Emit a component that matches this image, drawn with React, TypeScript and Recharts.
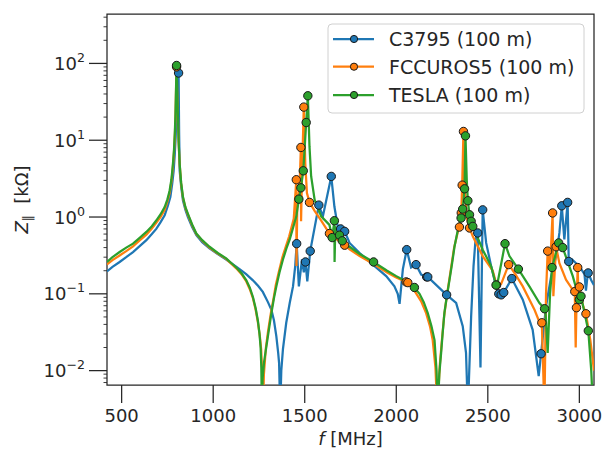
import React from "react";
import { ComposedChart, Line, Scatter, XAxis, YAxis, ReferenceArea } from "recharts";

type Pt = [number, number];

// [frequency MHz, |Z| kOhm]
const c3795Curve: Pt[] = [
  [420, 0.196], [450, 0.225], [489, 0.26], [525, 0.3], [562, 0.35], [600, 0.42], [635, 0.5],
  [665, 0.6], [689, 0.7], [712, 0.85], [735, 1.05], [752, 1.4], [766, 1.82], [776, 2.7],
  [784, 4.0], [790, 6.5], [795, 11], [799, 20], [802, 36], [811, 75], [814, 12], [817, 4.0],
  [825, 2.5], [835, 1.64], [848, 1.25], [862, 1.0], [885, 0.74], [908, 0.58], [940, 0.47],
  [980, 0.39], [1025, 0.33], [1071, 0.28], [1110, 0.24], [1144, 0.21], [1180, 0.18],
  [1217, 0.15], [1245, 0.127], [1271, 0.106], [1299, 0.078], [1318, 0.062], [1332, 0.045],
  [1345, 0.028], [1355, 0.017], [1360, 0.0125], [1366, 0.003], [1372, 0.01], [1381, 0.019],
  [1399, 0.042], [1418, 0.076], [1436, 0.125], [1448, 0.23], [1456, 0.45], [1468, 0.125],
  [1485, 0.28], [1495, 0.19], [1504, 0.26], [1514, 0.145], [1530, 0.36], [1577, 1.43],
  [1599, 1.02], [1645, 3.38], [1662, 1.37], [1680, 0.76], [1696, 0.7], [1718, 0.65],
  [1745, 0.46], [1800, 0.34], [1872, 0.24], [1945, 0.17], [1990, 0.125], [2008, 0.1],
  [2018, 0.074], [2036, 0.21], [2057, 0.376], [2081, 0.22], [2108, 0.24], [2136, 0.178],
  [2166, 0.166], [2172, 0.166], [2275, 0.097], [2327, 0.076], [2363, 0.038], [2381, 0.017],
  [2391, 0.003], [2409, 0.051], [2422, 0.23], [2433, 0.51], [2445, 0.62], [2460, 0.011],
  [2472, 1.24], [2491, 0.46], [2518, 0.23], [2545, 0.125], [2560, 0.1], [2573, 0.097],
  [2587, 0.104], [2631, 0.158], [2691, 0.084], [2745, 0.034], [2778, 0.0085], [2791, 0.0166],
  [2818, 0.069], [2846, 0.17], [2873, 0.31], [2891, 0.62], [2904, 1.4], [2918, 0.51],
  [2936, 1.55], [2942, 0.264], [2960, 0.28], [2982, 0.25], [3010, 0.21], [3028, 0.18],
  [3036, 0.11], [3042, 0.15], [3048, 0.187], [3065, 0.15], [3080, 0.13],
];
const c3795Markers: Pt[] = [
  [811, 75], [1456, 0.45], [1504, 0.26], [1530, 0.36], [1577, 1.43], [1645, 3.38], [1696, 0.7],
  [1718, 0.65], [2057, 0.376], [2108, 0.24], [2166, 0.166], [2172, 0.166], [2275, 0.097],
  [2445, 0.62], [2472, 1.24], [2560, 0.1], [2573, 0.097], [2587, 0.104], [2631, 0.158],
  [2791, 0.0166], [2904, 1.4], [2936, 1.55], [2942, 0.264], [3048, 0.187],
];

const fccCurve: Pt[] = [
  [420, 0.241], [450, 0.275], [489, 0.316], [525, 0.36], [562, 0.415], [600, 0.5], [635, 0.59],
  [665, 0.71], [689, 0.84], [712, 1.0], [735, 1.24], [750, 1.6], [762, 2.05], [772, 2.9],
  [780, 4.47], [786, 7], [791, 12.1], [794, 20], [796, 33], [798, 55], [800, 90], [803, 45],
  [807, 22], [811, 9.5], [817, 4.8], [825, 2.7], [835, 1.78], [848, 1.32], [862, 1.07],
  [885, 0.78], [908, 0.6], [940, 0.49], [980, 0.4], [1025, 0.335], [1071, 0.285],
  [1100, 0.245], [1126, 0.215], [1155, 0.18], [1181, 0.145], [1200, 0.115], [1217, 0.088],
  [1232, 0.062], [1244, 0.043], [1255, 0.028], [1262, 0.019], [1267, 0.01], [1272, 0.003],
  [1277, 0.009], [1288, 0.02], [1300, 0.033], [1315, 0.056], [1330, 0.088], [1342, 0.13],
  [1360, 0.2], [1378, 0.3], [1398, 0.42], [1415, 0.56], [1440, 0.95], [1454, 3.06],
  [1455, 0.23], [1459, 1.3], [1472, 2.6], [1479, 8.05], [1480, 0.88], [1486, 4.5], [1495, 27],
  [1503, 5.0], [1512, 2.05], [1526, 1.55], [1554, 1.2], [1590, 0.9], [1635, 0.61], [1680, 0.5],
  [1718, 0.43], [1745, 0.38], [1800, 0.31], [1876, 0.245], [1950, 0.19], [2000, 0.163],
  [2054, 0.143], [2063, 0.14], [2099, 0.11], [2136, 0.08], [2163, 0.056], [2185, 0.037],
  [2199, 0.025], [2214, 0.011], [2224, 0.003], [2238, 0.012], [2250, 0.026], [2261, 0.05],
  [2275, 0.09], [2289, 0.15], [2302, 0.24], [2316, 0.4], [2340, 0.7], [2345, 0.74],
  [2355, 1.13], [2360, 2.6], [2367, 13], [2372, 3], [2385, 1.0], [2400, 0.72], [2418, 0.56],
  [2472, 0.31], [2527, 0.2], [2548, 0.13], [2573, 0.135], [2614, 0.24], [2650, 0.18],
  [2691, 0.125], [2755, 0.062], [2791, 0.038], [2795, 0.042], [2809, 0.003], [2818, 0.1],
  [2827, 0.36], [2840, 0.22], [2854, 1.13], [2858, 0.093], [2873, 0.41], [2891, 0.25],
  [2927, 0.153], [2964, 0.113], [2975, 0.107], [2980, 0.02], [2984, 0.066], [2991, 0.22],
  [2995, 0.09], [3000, 0.123], [3020, 0.07], [3036, 0.055], [3060, 0.025], [3080, 0.01],
];
const fccMarkers: Pt[] = [
  [800, 90], [1454, 3.06], [1479, 8.05], [1495, 27], [1526, 1.55], [1635, 0.61], [1718, 0.43],
  [2054, 0.143], [2063, 0.14], [2345, 0.74], [2355, 1.13], [2360, 2.6], [2367, 13],
  [2400, 0.72], [2548, 0.13], [2614, 0.24], [2795, 0.042], [2827, 0.36], [2854, 1.13],
  [2873, 0.41], [2975, 0.107], [2984, 0.066], [2991, 0.22], [3000, 0.123], [3036, 0.055],
];

const teslaCurve: Pt[] = [
  [420, 0.26], [450, 0.3], [489, 0.35], [525, 0.4], [562, 0.45], [600, 0.54], [635, 0.64],
  [665, 0.76], [689, 0.9], [712, 1.08], [735, 1.35], [750, 1.7], [762, 2.2], [772, 3.1],
  [780, 4.9], [786, 7.5], [791, 13.4], [794, 22], [796, 36], [798, 60], [800, 94], [803, 50],
  [807, 22], [811, 10], [817, 4.9], [825, 2.8], [835, 1.82], [848, 1.35], [862, 1.1],
  [885, 0.8], [908, 0.61], [940, 0.5], [980, 0.41], [1025, 0.34], [1071, 0.29], [1100, 0.25],
  [1126, 0.22], [1155, 0.185], [1181, 0.15], [1200, 0.12], [1217, 0.091], [1232, 0.065],
  [1244, 0.045], [1253, 0.03], [1259, 0.02], [1263, 0.011], [1266, 0.003], [1270, 0.008],
  [1278, 0.013], [1291, 0.021], [1305, 0.035], [1318, 0.056], [1332, 0.088], [1345, 0.125],
  [1362, 0.19], [1381, 0.28], [1400, 0.39], [1418, 0.51], [1436, 0.72], [1454, 1.02],
  [1468, 1.71], [1479, 2.4], [1492, 4.0], [1508, 17], [1517, 37.9], [1526, 8.3], [1535, 3.4],
  [1554, 1.68], [1590, 1.02], [1635, 0.79], [1650, 0.54], [1662, 0.895], [1663, 0.26],
  [1667, 0.75], [1690, 0.58], [1705, 0.49], [1745, 0.41], [1800, 0.33], [1876, 0.26],
  [1950, 0.2], [2000, 0.17], [2054, 0.145], [2099, 0.121], [2127, 0.1], [2150, 0.078],
  [2172, 0.056], [2192, 0.038], [2209, 0.025], [2220, 0.01], [2227, 0.003], [2235, 0.009],
  [2245, 0.017], [2253, 0.03], [2263, 0.057], [2277, 0.095], [2291, 0.153], [2305, 0.25],
  [2318, 0.41], [2340, 0.75], [2354, 0.97], [2363, 1.27], [2373, 2.33], [2378, 11.4],
  [2385, 3.0], [2391, 1.63], [2400, 1.07], [2409, 0.88], [2418, 0.755], [2427, 0.68],
  [2472, 0.376], [2518, 0.23], [2545, 0.13], [2551, 0.13], [2594, 0.45], [2618, 0.31],
  [2667, 0.21], [2727, 0.125], [2782, 0.076], [2810, 0.064], [2815, 0.06], [2827, 0.017],
  [2840, 0.1], [2851, 0.22], [2887, 0.46], [2909, 0.4], [2964, 0.17], [3000, 0.084],
  [3009, 0.093], [3049, 0.033], [3065, 0.01], [3075, 0.003],
];
const teslaMarkers: Pt[] = [
  [800, 94], [1468, 1.71], [1479, 2.4], [1492, 4.0], [1508, 17], [1517, 37.9], [1650, 0.54],
  [1662, 0.895], [1690, 0.58], [1705, 0.49], [1876, 0.26], [2099, 0.121], [2354, 0.97],
  [2363, 1.27], [2373, 2.33], [2378, 11.4], [2391, 1.63], [2400, 1.07], [2409, 0.88],
  [2418, 0.755], [2545, 0.13], [2594, 0.45], [2667, 0.21], [2810, 0.064], [2851, 0.22],
  [2887, 0.46], [2909, 0.4], [3000, 0.084], [3009, 0.093], [3049, 0.033],
];

const seriesNames = ["C3795 (100 m)", "FCCUROS5 (100 m)", "TESLA (100 m)"];
const seriesColors = ["#1f77b4", "#ff7f0e", "#2ca02c"];

const xTicks = [500, 1000, 1500, 2000, 2500, 3000];
const yMajorTicks = [0.01, 0.1, 1, 10, 100];
const yExponents = ["\u22122", "\u22121", "0", "1", "2"];
const yMinorTicks = [
  0.007, 0.008, 0.009, 0.02, 0.03, 0.04, 0.05, 0.06, 0.07, 0.08, 0.09,
  0.2, 0.3, 0.4, 0.5, 0.6, 0.7, 0.8, 0.9, 2, 3, 4, 5, 6, 7, 8, 9,
  20, 30, 40, 50, 60, 70, 80, 90, 200, 300, 400,
];

const W = 607;
const H = 449;
const FONT = "DejaVu Sans, sans-serif";
const INK = "#262626";

const rows = (pts: Pt[]) => pts.map(([f, z]) => ({ f, z }));

const series = [
  { curve: rows(c3795Curve), markers: rows(c3795Markers) },
  { curve: rows(fccCurve), markers: rows(fccMarkers) },
  { curve: rows(teslaCurve), markers: rows(teslaMarkers) },
];

function XTick(props: any) {
  const { x, y, payload } = props;
  return (
    <g>
      <line x1={x} x2={x} y1={y} y2={y + 18} stroke={INK} strokeWidth={1.25} />
      <text x={x} y={y + 37} textAnchor="middle" fontSize={18} fill={INK} fontFamily={FONT}>
        {payload.value}
      </text>
    </g>
  );
}

function YTick(props: any) {
  const { x, y, payload } = props;
  const idx = yMajorTicks.findIndex((t) => Math.abs(t - payload.value) / t < 1e-6);
  if (idx < 0) {
    return <line x1={x - 3.5} x2={x} y1={y} y2={y} stroke={INK} strokeWidth={0.9} />;
  }
  return (
    <g>
      <line x1={x - 18} x2={x} y1={y} y2={y} stroke={INK} strokeWidth={1.25} />
      <text x={x - 22} y={y + 6.5} textAnchor="end" fontSize={18} fill={INK} fontFamily={FONT}>
        10
        <tspan dy={-8} fontSize={12.6}>
          {yExponents[idx]}
        </tspan>
      </text>
    </g>
  );
}

function markerShape(color: string) {
  return (p: any) => (
    <circle cx={p.cx} cy={p.cy} r={4.2} fill={color} stroke="#1a1a1a" strokeWidth={1} />
  );
}

function Overlay() {
  const rowY = [39, 66.7, 95];
  return (
    <svg width={W} height={H} style={{ position: "absolute", left: 0, top: 0, pointerEvents: "none" }}>
      <rect x={328} y={24} width={256} height={89} rx={4} fill="#ffffff" fillOpacity={0.8} stroke="#d0d0d0" strokeWidth={1} />
      {seriesNames.map((name, i) => (
        <g key={name}>
          <line x1={333} x2={374} y1={rowY[i]} y2={rowY[i]} stroke={seriesColors[i]} strokeWidth={2.25} />
          <circle cx={354} cy={rowY[i]} r={3.6} fill={seriesColors[i]} stroke="#1a1a1a" strokeWidth={1} />
          <text x={389} y={rowY[i] + 7} fontSize={19} fill={INK} fontFamily={FONT}>
            {name}
          </text>
        </g>
      ))}
      <text x={350.5} y={445} textAnchor="middle" fontSize={18} fill={INK} fontFamily={FONT}>
        <tspan fontStyle="italic">f</tspan>
        <tspan> [MHz]</tspan>
      </text>
      <text
        x={28}
        y={199.5}
        transform="rotate(-90, 28, 199.5)"
        textAnchor="middle"
        fontSize={18}
        fill={INK}
        fontFamily={FONT}
      >
        <tspan fontStyle="italic">Z</tspan>
        <tspan dy={4} fontSize={12}>{"\u2016"}</tspan>
        <tspan dy={-4}>{"\u00a0\u00a0[k\u03a9]"}</tspan>
      </text>
    </svg>
  );
}

export default function App() {
  return (
    <div style={{ position: "absolute", left: 0, top: 0, width: W, height: H, background: "#fff" }}>
      <ComposedChart width={W} height={H} margin={{ top: 14, right: 13, bottom: 0, left: 0 }}>
        <XAxis
          type="number"
          dataKey="f"
          domain={[420, 3080]}
          allowDataOverflow
          ticks={xTicks}
          interval={0}
          height={64}
          axisLine={false}
          tickLine={false}
          tickSize={0}
          tickMargin={0}
          tick={<XTick />}
        />
        <YAxis
          type="number"
          scale="log"
          dataKey="z"
          domain={[0.0065, 440]}
          allowDataOverflow
          ticks={[...yMajorTicks, ...yMinorTicks]}
          interval={0}
          width={107}
          axisLine={false}
          tickLine={false}
          tickSize={0}
          tickMargin={0}
          tick={<YTick />}
        />
        {series.map((s, i) => [
          <Line
            key={`line-${i}`}
            data={s.curve}
            dataKey="z"
            type="linear"
            stroke={seriesColors[i]}
            strokeWidth={2.25}
            dot={false}
            activeDot={false}
            isAnimationActive={false}
          />,
          <Scatter
            key={`mk-${i}`}
            data={s.markers}
            dataKey="z"
            shape={markerShape(seriesColors[i])}
            isAnimationActive={false}
          />,
        ])}
        <ReferenceArea
          x1={420}
          x2={3080}
          y1={0.0065}
          y2={440}
          fill="none"
          stroke={INK}
          strokeWidth={1.25}
        />
      </ComposedChart>
      <Overlay />
    </div>
  );
}
